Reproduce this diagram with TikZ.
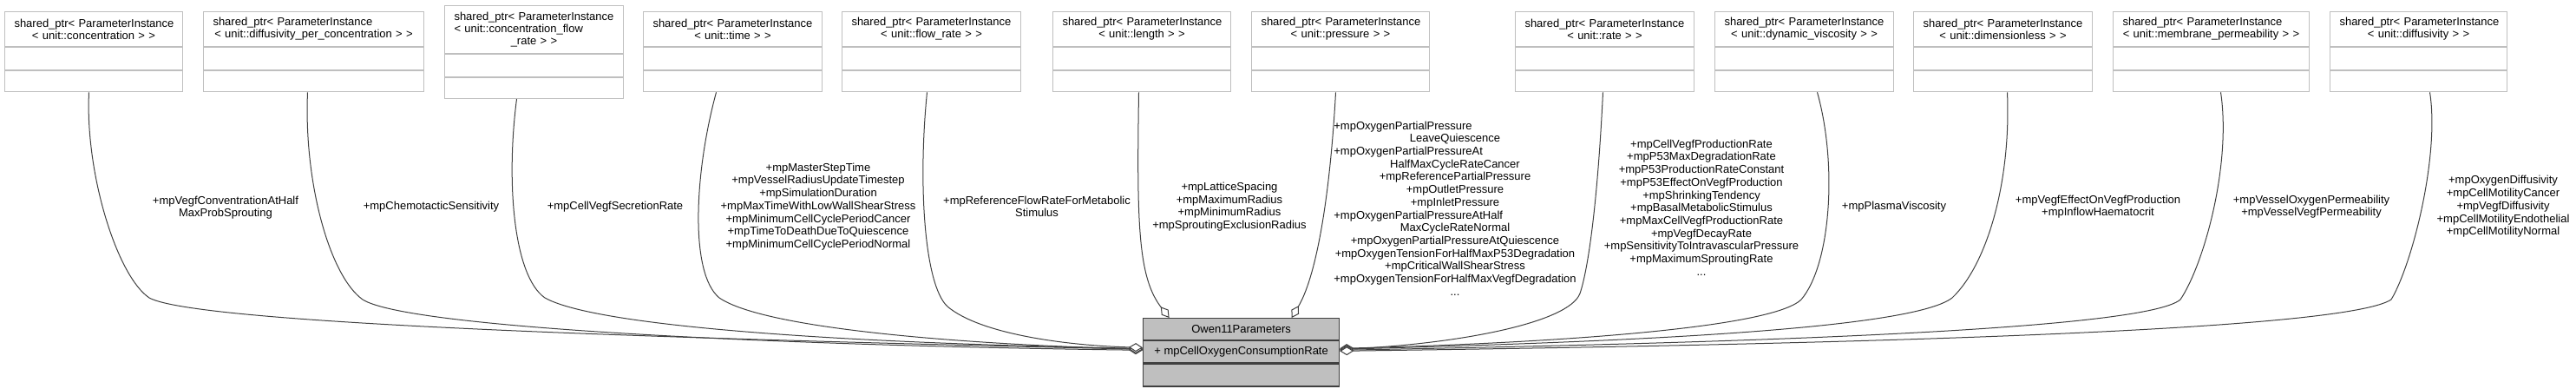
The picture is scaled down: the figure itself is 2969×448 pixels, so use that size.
\documentclass[tikz,border=0pt]{standalone}
\usepackage{fontspec}
\setmainfont{Liberation Sans}
\usetikzlibrary{arrows.meta}
\definecolor{boxgray}{HTML}{BFBFBF}
\definecolor{edgegray}{HTML}{404040}
\definecolor{ownfill}{HTML}{BFBFBF}
\newcommand\pbfont{\fontsize{13bp}{14bp}\selectfont}
\newcommand\lbfont{\fontsize{13bp}{14.7bp}\selectfont}
\newcommand\padL[1]{\rlap{#1}\phantom{+mpOxygenTensionForHalfMaxVegfDegradation}}
\newcommand\mkbox[5]{%
  \node[hdr, minimum width=#3bp, text width=#4bp, minimum height=39.4bp] (#1h) at (#2,13.3)
    {\makebox[#4bp][l]{\hspace*{5bp}shared\_ptr< ParameterInstance}\\#5};
  \node[sect, minimum width=#3bp, minimum height=26bp] (#1a) at (#1h.south west) {};
  \node[sect, minimum width=#3bp, minimum height=24.6bp] (#1m) at (#1a.south west) {};
}
\begin{document}
\begin{tikzpicture}[x=1bp,y=-1bp,
  hdr/.style={draw=boxgray, fill=white, line width=1bp, inner xsep=6bp, inner ysep=0pt,
              align=center, font=\pbfont, anchor=north west},
  sect/.style={draw=boxgray, fill=white, line width=1bp, inner sep=0pt, anchor=north west},
  own/.style={draw=edgegray, fill=ownfill, line width=1.2bp, inner sep=0pt, anchor=north west, font=\pbfont},
  lbl/.style={align=center, inner sep=0pt, font=\lbfont},
  conn/.style={draw=edgegray, line width=1bp, -{Diamond[fill=white, length=16bp, width=10bp]}}]
\useasboundingbox (0,0) rectangle (2969,448);

% top boxes
\mkbox{b1}{5}{205}{193}{\mbox{< unit::concentration > >}}
\mkbox{b2}{234}{254}{242}{\mbox{< unit::diffusivity\_per\_concentration > >}}
\node[hdr, minimum width=206bp, text width=194bp, minimum height=55bp] (b3h) at (512,6)
  {\makebox[194bp][l]{\hspace*{5bp}shared\_ptr< ParameterInstance}\\
   \makebox[194bp][l]{\hspace*{5bp}< unit::concentration\_flow}\\\_rate > >};
\node[sect, minimum width=206bp, minimum height=26bp] (b3a) at (b3h.south west) {};
\node[sect, minimum width=206bp, minimum height=24bp] (b3m) at (b3a.south west) {};
\mkbox{b4}{741}{206}{194}{\mbox{< unit::time > >}}
\mkbox{b5}{970}{206}{194}{\mbox{< unit::flow\_rate > >}}
\mkbox{b6}{1213}{205}{193}{\mbox{< unit::length > >}}
\mkbox{b7}{1442}{205}{193}{\mbox{< unit::pressure > >}}
\mkbox{b8}{1746}{206}{194}{\mbox{< unit::rate > >}}
\mkbox{b9}{1976}{206}{194}{\mbox{< unit::dynamic\_viscosity > >}}
\mkbox{b10}{2205}{206}{194}{\mbox{< unit::dimensionless > >}}
\mkbox{b11}{2435}{226}{214}{\mbox{< unit::membrane\_permeability > >}}
\mkbox{b12}{2685}{204}{192}{\mbox{< unit::diffusivity > >}}

% main class
\node[own, minimum width=226bp, minimum height=25bp] (owh) at (1317,366) {Owen11Parameters};
\node[own, minimum width=226bp, minimum height=25bp] (owa) at (owh.south west) {+ mpCellOxygenConsumptionRate};
\node[own, minimum width=226bp, minimum height=26bp] (owm) at (owa.south west) {};

% connectors
\draw[conn] ([xshift=-5.5bp]b1m.south) .. controls (98,200) and (135,318) .. (172,343)
  .. controls (230,375) and (850,392) .. ([yshift=3bp]owa.west);
\draw[conn] ([xshift=-7bp]b2m.south) .. controls (350,210) and (380,318) .. (418,345)
  .. controls (470,378) and (900,398) .. ([yshift=2bp]owa.west);
\draw[conn] ([xshift=-20bp]b3m.south) .. controls (583,210) and (592,318) .. (628,343)
  .. controls (690,378) and (1000,396) .. ([yshift=4bp]owa.west);
\draw[conn] ([xshift=-19bp]b4m.south) .. controls (800,200) and (795,315) .. (829,343)
  .. controls (880,378) and (1100,396) .. ([yshift=3bp]owa.west);
\draw[conn] ([xshift=-5bp]b5m.south) .. controls (1058,210) and (1065,328) .. (1092,353)
  .. controls (1130,385) and (1230,398) .. ([yshift=5bp]owa.west);
\draw[conn] ([xshift=-3.5bp]b6m.south) .. controls (1310,260) and (1312,320) .. ([xshift=-83bp]owh.north);
\draw[conn] ([xshift=-5.5bp]b7m.south) .. controls (1532,240) and (1515,322) .. ([xshift=58bp]owh.north);
\draw[conn] ([xshift=-2bp]b8m.south) .. controls (1842,220) and (1832,305) .. (1821,338)
  .. controls (1808,372) and (1680,396) .. ([yshift=3bp]owa.east);
\draw[conn] ([xshift=15bp]b9m.south) .. controls (2118,190) and (2110,305) .. (2076,345)
  .. controls (2040,380) and (1760,396) .. ([yshift=4bp]owa.east);
\draw[conn] ([xshift=5bp]b10m.south) .. controls (2318,210) and (2290,305) .. (2250,343)
  .. controls (2200,382) and (1820,395) .. ([yshift=3bp]owa.east);
\draw[conn] ([xshift=11bp]b11m.south) .. controls (2572,190) and (2540,305) .. (2513,345)
  .. controls (2470,382) and (1950,396) .. ([yshift=2bp]owa.east);
\draw[conn] ([xshift=13bp]b12m.south) .. controls (2812,180) and (2780,305) .. (2756,345)
  .. controls (2700,382) and (2100,397) .. ([yshift=1bp]owa.east);

% labels
\node[lbl] (l1) at (260,239) {+mpVegfConventrationAtHalf\\MaxProbSprouting};
\node[lbl] (l2) at (497,238) {+mpChemotacticSensitivity};
\node[lbl] (l3) at (709,238) {+mpCellVegfSecretionRate};
\node[lbl] (l4) at (943,238) {+mpMasterStepTime\\+mpVesselRadiusUpdateTimestep\\+mpSimulationDuration\\+mpMaxTimeWithLowWallShearStress\\+mpMinimumCellCyclePeriodCancer\\+mpTimeToDeathDueToQuiescence\\+mpMinimumCellCyclePeriodNormal};
\node[lbl] (l5) at (1195,238) {+mpReferenceFlowRateForMetabolic\\Stimulus};
\node[lbl] (l6) at (1417,238) {+mpLatticeSpacing\\+mpMaximumRadius\\+mpMinimumRadius\\+mpSproutingExclusionRadius};
\node[lbl] (l7) at (1677,240) {\padL{+mpOxygenPartialPressure}\\LeaveQuiescence\\\padL{+mpOxygenPartialPressureAt}\\HalfMaxCycleRateCancer\\+mpReferencePartialPressure\\+mpOutletPressure\\+mpInletPressure\\\padL{+mpOxygenPartialPressureAtHalf}\\MaxCycleRateNormal\\+mpOxygenPartialPressureAtQuiescence\\+mpOxygenTensionForHalfMaxP53Degradation\\+mpCriticalWallShearStress\\+mpOxygenTensionForHalfMaxVegfDegradation\\...};
\node[lbl] (l8) at (1961,239) {+mpCellVegfProductionRate\\+mpP53MaxDegradationRate\\+mpP53ProductionRateConstant\\+mpP53EffectOnVegfProduction\\+mpShrinkingTendency\\+mpBasalMetabolicStimulus\\+mpMaxCellVegfProductionRate\\+mpVegfDecayRate\\+mpSensitivityToIntravascularPressure\\+mpMaximumSproutingRate\\...};
\node[lbl] (l9) at (2183,238) {+mpPlasmaViscosity};
\node[lbl] (l10) at (2418,238) {+mpVegfEffectOnVegfProduction\\+mpInflowHaematocrit};
\node[lbl] (l11) at (2664,238) {+mpVesselOxygenPermeability\\+mpVesselVegfPermeability};
\node[lbl] (l12) at (2885,238) {+mpOxygenDiffusivity\\+mpCellMotilityCancer\\+mpVegfDiffusivity\\+mpCellMotilityEndothelial\\+mpCellMotilityNormal};
\end{tikzpicture}
\end{document}
